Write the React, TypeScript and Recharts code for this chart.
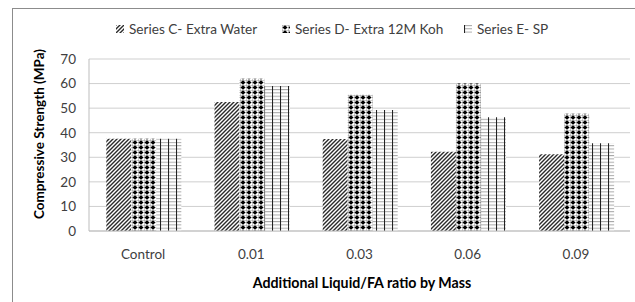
import React from "react";
import { BarChart, Bar, XAxis, YAxis, CartesianGrid, Label } from "recharts";

const categories = ["Control", "0.01", "0.03", "0.06", "0.09"];
const seriesC = [37.5, 52.5, 37.4, 32.3, 31.2];
const seriesD = [37.5, 62, 55.5, 60, 47.7];
const seriesE = [37.5, 59, 49.2, 46.3, 35.7];
const yTicks = [0, 10, 20, 30, 40, 50, 60, 70];

const seriesNames = {
  c: "Series C- Extra Water",
  d: "Series D- Extra 12M Koh",
  e: "Series E- SP",
};

const data = categories.map((cat, i) => ({
  cat,
  c: seriesC[i],
  d: seriesD[i],
  e: seriesE[i],
}));

const FONT = "Lato, 'Open Sans', sans-serif";

function PatternDefs() {
  return (
    <defs>
      <pattern id="patC" patternUnits="userSpaceOnUse" width="4" height="4">
        <rect width="4" height="4" fill="#fff" />
        <path d="M-1,1 l2,-2 M0,4 l4,-4 M3,5 l2,-2" stroke="#2a2a2a" strokeWidth="1.4" />
      </pattern>
      <pattern id="patD" patternUnits="userSpaceOnUse" width="6" height="5">
        <rect width="6" height="5" fill="#fff" />
        <path d="M0,0 V5 M0,0 H6" stroke="#999" strokeWidth="1" />
        <path d="M3,0.3 L5.6,2.5 L3,4.7 L0.4,2.5Z" fill="#000" />
      </pattern>
      <pattern id="patE" patternUnits="userSpaceOnUse" width="8" height="3.3">
        <rect width="8" height="3.3" fill="#fff" />
        <path d="M0,0.5 H8" stroke="#a8a8a8" strokeWidth="1" />
        <path d="M0.5,0 V3.3" stroke="#222" strokeWidth="1.1" />
      </pattern>
    </defs>
  );
}

function LegendIcon({ fill }: { fill: string }) {
  return (
    <svg width="8" height="8" style={{ marginRight: 5 }}>
      <rect width="8" height="8" fill={fill} />
    </svg>
  );
}

function HtmlLegend() {
  const items = [
    { key: "c", left: 116, fill: "url(#patC)" },
    { key: "d", left: 282, fill: "url(#patD)" },
    { key: "e", left: 464, fill: "url(#patE)" },
  ];
  return (
    <>
      {items.map((it) => (
        <div
          key={it.key}
          style={{
            position: "absolute",
            left: it.left,
            top: 20,
            height: 18,
            display: "flex",
            alignItems: "center",
            fontFamily: FONT,
            fontSize: 13.6,
            color: "#404040",
            whiteSpace: "nowrap",
          }}
        >
          <LegendIcon fill={it.fill} />
          {seriesNames[it.key as "c" | "d" | "e"]}
        </div>
      ))}
    </>
  );
}

export default function App() {
  return (
    <div
      style={{
        position: "fixed",
        left: 0,
        top: 0,
        width: 635,
        height: 302,
        overflow: "hidden",
        background: "#fff",
      }}
    >
      <div
        style={{
          position: "absolute",
          left: 12,
          top: 8,
          width: 700,
          height: 400,
          borderLeft: "1px solid #8c8c8c",
          borderTop: "1px solid #8c8c8c",
        }}
      />
      <BarChart
        width={635}
        height={302}
        data={data}
        margin={{ top: 59, right: 5, bottom: 31, left: 0 }}
        barCategoryGap="16%"
        barGap={0}
        style={{ position: "absolute", left: 0, top: 0 }}
      >
        <PatternDefs />
        <CartesianGrid vertical={false} stroke="#cfcfcf" />
        <XAxis
          dataKey="cat"
          height={40}
          tickLine={false}
          axisLine={{ stroke: "#bdbdbd" }}
          tickMargin={12}
          tick={{ fontSize: 13.5, fill: "#404040", fontFamily: FONT }}
        >
          <Label
            content={() => (
              <text
                x={362}
                y={282}
                textAnchor="middle"
                dominantBaseline="central"
                fontFamily={FONT}
                fontSize={14.2}
                fontWeight="bold"
                fill="#000"
              >
                Additional Liquid/FA ratio by Mass
              </text>
            )}
          />
        </XAxis>
        <YAxis
          width={89}
          domain={[0, 70]}
          ticks={yTicks}
          interval={0}
          tickLine={false}
          axisLine={{ stroke: "#bdbdbd" }}
          tickMargin={7}
          tick={{ fontSize: 13.5, fill: "#404040", fontFamily: FONT }}
        >
          <Label
            content={() => (
              <text
                transform="translate(39,134) rotate(-90)"
                textAnchor="middle"
                dominantBaseline="central"
                fontFamily={FONT}
                fontSize={13.5}
                fontWeight="bold"
                fill="#000"
              >
                Compressive Strength (MPa)
              </text>
            )}
          />
        </YAxis>
        <Bar dataKey="c" name={seriesNames.c} fill="url(#patC)" isAnimationActive={false} />
        <Bar dataKey="d" name={seriesNames.d} fill="url(#patD)" isAnimationActive={false} />
        <Bar dataKey="e" name={seriesNames.e} fill="url(#patE)" isAnimationActive={false} />
      </BarChart>
      <HtmlLegend />
    </div>
  );
}
